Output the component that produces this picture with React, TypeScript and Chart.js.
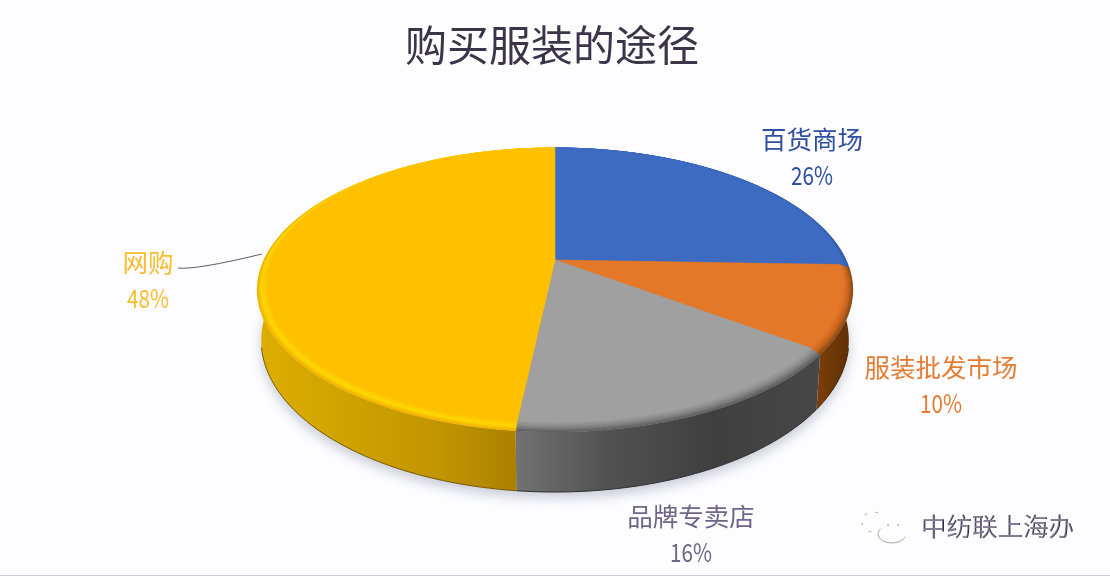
import React, { useEffect, useRef } from "react";
import { Chart, registerables } from "chart.js";

Chart.register(...registerables);

const chartTitle = "购买服装的途径";
const categories = ["百货商场", "服装批发市场", "品牌专卖店", "网购"];
const shareValues = [25.9, 9.5, 16.3, 48.3];
const faceColors = ["#3D6BC1", "#E47829", "#A0A0A0", "#FFC000"];
const rimOuterColors = ["#2F58A6", "#8A4A14", "#5E5E5E", "#F0B000"];
const rimPeakColors = ["#3D6BC1", "#C9661E", "#858585", "#FFD800"];
const wallStops = [
  [[0, "#24447E"], [1, "#1D3766"]],
  [[0, "#7C3F0A"], [1, "#5E2E05"]],
  [[0, "#727272"], [0.3, "#525252"], [0.65, "#3F3F3F"], [1, "#474747"]],
  [[0, "#DDAE00"], [0.35, "#CFA200"], [0.7, "#C29500"], [1, "#A98100"]],
] as [number, string][][];
const labelColors = ["#2F4EA2", "#E57C33", "#6F6587", "#F9BC2A"];
const labelAnchors = [[812, 139], [941, 367], [691, 516], [148, 262]];
const watermark = "中纺联上海办";

const CJK = '"Noto Sans CJK SC", sans-serif';
const CX = 555, AY = 260, A = 291, B = 135.7, K = 0.211;

const project = (u: number, v: number, sx = 1, sy = 1, dy = 0) => {
  const w = 1 - K * v;
  return [CX + (A * u * sx) / w, AY + (B * v * sy) / w + dy];
};

const hexMix = (a: string, b: string, t: number) => {
  const p = (h: string) => [1, 3, 5].map((i) => parseInt(h.slice(i, i + 2), 16));
  const x = p(a), y = p(b);
  return `rgb(${x.map((c, i) => Math.round(c + (y[i] - c) * t)).join(",")})`;
};

const rimPoints = (s: number, e: number, f: (a: number) => number[]) => {
  const n = Math.max(8, Math.ceil(((e - s) / (Math.PI * 2)) * 240));
  const pts: number[][] = [];
  for (let i = 0; i <= n; i++) pts.push(f(s + ((e - s) * i) / n));
  return pts;
};

const pie3d = {
  id: "pie3d",
  beforeDatasetsDraw(chart: any) {
    const ctx: CanvasRenderingContext2D = chart.ctx;
    const arcs = chart.getDatasetMeta(0).data;
    const bottom = (a: number) => project(Math.cos(a), Math.sin(a), 0.987, 1.07, 48);
    const top = (a: number) => project(Math.cos(a), Math.sin(a));

    ctx.save();
    // soft ground shadow
    ctx.save();
    ctx.shadowColor = "rgba(90,100,130,0.32)";
    ctx.shadowBlur = 12;
    ctx.shadowOffsetY = 6;
    ctx.fillStyle = "#ffffff";
    ctx.beginPath();
    rimPoints(0, Math.PI * 2, bottom).forEach((p, i) => (i ? ctx.lineTo(p[0], p[1]) : ctx.moveTo(p[0], p[1])));
    ctx.closePath();
    ctx.fill();
    ctx.restore();

    // walls
    arcs.forEach((arc: any, i: number) => {
      const { startAngle: s, endAngle: e } = arc;
      const tp = rimPoints(s, e, top);
      const bt = rimPoints(s, e, bottom);
      const xs = tp.concat(bt).filter((p) => p[1] > 285).map((p) => p[0]);
      const x0 = Math.min(...xs), x1 = Math.max(...xs);
      const g = ctx.createLinearGradient(x0, 0, x1, 0);
      wallStops[i].forEach(([o, c]) => g.addColorStop(o, c));
      ctx.fillStyle = g;
      ctx.beginPath();
      tp.forEach((p, k) => (k ? ctx.lineTo(p[0], p[1]) : ctx.moveTo(p[0], p[1])));
      bt.slice().reverse().forEach((p) => ctx.lineTo(p[0], p[1]));
      ctx.closePath();
      ctx.fill();
      ctx.strokeStyle = hexMix(rimOuterColors[i], "#000000", 0.5);
      ctx.lineWidth = 1;
      ctx.beginPath();
      bt.filter((p) => p[1] > 345).forEach((p, k) => (k ? ctx.lineTo(p[0], p[1]) : ctx.moveTo(p[0], p[1])));
      ctx.stroke();
    });

    // bevel + top face
    const steps = 12;
    for (let t = 0; t <= steps; t++) {
      const q = t / steps;
      const ru = 1 - 0.027 * q;
      const rv = 1 - 0.025 * q;
      const off = -0.022 * q;
      arcs.forEach((arc: any, i: number) => {
        const { startAngle: s, endAngle: e } = arc;
        const col = q < 0.45
          ? hexMix(rimOuterColors[i], rimPeakColors[i], q / 0.45)
          : hexMix(rimPeakColors[i], faceColors[i], (q - 0.45) / 0.55);
        ctx.fillStyle = col;
        ctx.strokeStyle = col;
        ctx.lineWidth = 0.6;
        ctx.beginPath();
        const apex = project(0, 0);
        ctx.moveTo(apex[0], apex[1]);
        rimPoints(s, e, (a) => project(Math.cos(a) * ru, Math.sin(a) * rv + off)).forEach((p) => ctx.lineTo(p[0], p[1]));
        ctx.closePath();
        ctx.fill();
        ctx.stroke();
      });
    }
    ctx.restore();
    return false;
  },
  afterDraw(chart: any) {
    const ctx: CanvasRenderingContext2D = chart.ctx;
    const total = shareValues.reduce((a, b) => a + b, 0);
    ctx.save();
    ctx.textAlign = "center";
    ctx.textBaseline = "middle";
    categories.forEach((name, i) => {
      const [x, y] = labelAnchors[i];
      ctx.fillStyle = labelColors[i];
      ctx.font = `25.5px ${CJK}`;
      ctx.fillText(name, x, y);
      ctx.fillText(`${Math.round((shareValues[i] / total) * 100)}%`, x, y + 36, 42);
    });
    // leader line
    ctx.strokeStyle = "#5C5C6C";
    ctx.lineWidth = 1;
    ctx.beginPath();
    ctx.moveTo(178, 268);
    ctx.quadraticCurveTo(196, 270, 262, 254);
    ctx.stroke();
    // watermark
    ctx.textAlign = "left";
    ctx.font = `25.5px ${CJK}`;
    ctx.fillStyle = "#2E2546";
    ctx.fillText(watermark, 921, 526.6);
    ctx.globalAlpha = 0.4;
    ctx.fillStyle = "#ffffff";
    ctx.fillText(watermark, 920, 526);
    ctx.globalAlpha = 1;
    ctx.strokeStyle = "#85858F";
    ctx.fillStyle = "#6A6A78";
    ctx.lineWidth = 0.7;
    ctx.beginPath();
    ctx.ellipse(892, 534, 14, 9, 0, Math.PI * 0.1, Math.PI * 1.2);
    ctx.stroke();
    ctx.setLineDash([3, 8]);
    ctx.beginPath();
    ctx.ellipse(873, 522, 11, 10, 0, Math.PI * 0.55, Math.PI * 1.75);
    ctx.stroke();
    ctx.setLineDash([]);
    ctx.fillRect(887.5, 524.5, 1.2, 1.2);
    ctx.fillRect(897.5, 524.5, 1.2, 1.2);
    // page edge
    ctx.fillStyle = "#C8D0DE";
    ctx.fillRect(0, 575, 1110, 1);
    ctx.restore();
  },
};

const pageBackground = {
  id: "pageBackground",
  beforeDraw(chart: any) {
    chart.ctx.save();
    chart.ctx.fillStyle = "#FDFDFF";
    chart.ctx.fillRect(0, 0, chart.width, chart.height);
    chart.ctx.restore();
  },
};

export default function App() {
  const ref = useRef<HTMLCanvasElement>(null);
  useEffect(() => {
    const chart = new Chart(ref.current!, {
      type: "pie",
      data: {
        labels: categories,
        datasets: [{ data: shareValues, backgroundColor: faceColors, borderWidth: 0 }],
      },
      options: {
        animation: false,
        responsive: false,
        devicePixelRatio: 1,
        layout: { padding: { right: 6 } },
        plugins: {
          legend: { display: false },
          tooltip: { enabled: false },
          title: {
            display: true,
            text: chartTitle,
            color: "#3C3448",
            font: { family: CJK, size: 42, weight: "normal" },
            padding: { top: 20, bottom: 10 },
          },
        },
      },
      plugins: [pageBackground, pie3d],
    } as any);
    return () => chart.destroy();
  }, []);
  return (
    <div style={{ position: "fixed", left: 0, top: 0, width: 1110, height: 576 }}>
      <canvas ref={ref} width={1110} height={576} style={{ display: "block" }} />
    </div>
  );
}
